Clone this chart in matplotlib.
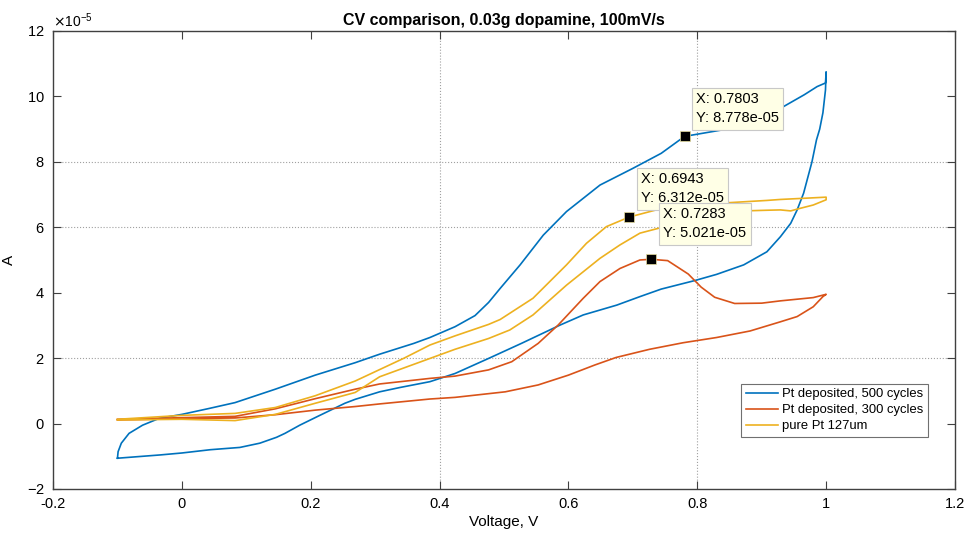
import numpy as np
import matplotlib
matplotlib.use("Agg")
import matplotlib.pyplot as plt
from matplotlib.ticker import MultipleLocator, FuncFormatter

plt.rcParams['font.family'] = ['Liberation Sans', 'DejaVu Sans']
plt.rcParams['axes.unicode_minus'] = False

# current values are read in units of 1e-5 A
SCALE = 1e-5

# Pt deposited, 500 cycles (anodic sweep then return sweep)
v_500_fwd = [-0.100, -0.099, -0.094, -0.082, -0.061, -0.035, 0.000, 0.042, 0.0825, 0.145,
             0.207, 0.269, 0.307, 0.360, 0.385, 0.424, 0.455, 0.476, 0.494, 0.525,
             0.561, 0.597, 0.649, 0.700, 0.744, 0.7803, 0.837, 0.882, 0.934, 0.966,
             0.986, 0.999, 1.000]
i_500_fwd = [-1.06, -0.86, -0.60, -0.30, -0.05, 0.16, 0.28, 0.46, 0.64, 1.05,
             1.48, 1.86, 2.12, 2.45, 2.63, 2.96, 3.30, 3.70, 4.13, 4.85,
             5.76, 6.48, 7.29, 7.80, 8.26, 8.778, 8.97, 9.28, 9.69, 10.05,
             10.30, 10.41, 10.75]
v_500_rev = [1.000, 0.999, 0.995, 0.990, 0.985, 0.978, 0.965, 0.955, 0.945, 0.929,
             0.908, 0.872, 0.830, 0.796, 0.744, 0.711, 0.675, 0.623, 0.587, 0.571,
             0.527, 0.476, 0.424, 0.385, 0.338, 0.307, 0.269, 0.253, 0.212, 0.183,
             0.160, 0.147, 0.121, 0.090, 0.044, 0.000, -0.034, -0.100]
i_500_rev = [10.75, 10.20, 9.50, 9.00, 8.67, 8.00, 7.04, 6.53, 6.12, 5.71,
             5.25, 4.85, 4.56, 4.37, 4.11, 3.88, 3.62, 3.32, 3.01, 2.86,
             2.45, 1.99, 1.53, 1.28, 1.10, 0.97, 0.74, 0.62, 0.23, -0.05,
             -0.30, -0.42, -0.60, -0.73, -0.80, -0.90, -0.96, -1.06]

# Pt deposited, 300 cycles
v_300_fwd = [-0.100, 0.000, 0.0825, 0.145, 0.207, 0.269, 0.307, 0.385, 0.424, 0.476,
             0.512, 0.553, 0.584, 0.623, 0.649, 0.680, 0.711, 0.7283, 0.754, 0.786,
             0.806, 0.827, 0.858, 0.900, 0.929, 0.980, 1.000]
i_300_fwd = [0.13, 0.18, 0.22, 0.45, 0.76, 1.05, 1.21, 1.38, 1.45, 1.64,
             1.89, 2.45, 3.01, 3.83, 4.34, 4.74, 5.00, 5.021, 4.98, 4.57,
             4.17, 3.86, 3.67, 3.68, 3.75, 3.85, 3.95]
v_300_rev = [1.000, 0.995, 0.980, 0.955, 0.929, 0.882, 0.830, 0.778, 0.726, 0.674,
             0.641, 0.600, 0.553, 0.502, 0.424, 0.385, 0.307, 0.269, 0.207, 0.145,
             0.0825, 0.000, -0.100]
i_300_rev = [3.95, 3.88, 3.57, 3.27, 3.11, 2.83, 2.63, 2.47, 2.27, 2.02,
             1.79, 1.48, 1.18, 0.97, 0.80, 0.75, 0.60, 0.52, 0.41, 0.27,
             0.17, 0.15, 0.11]

# pure Pt 127um
v_pt_fwd = [-0.100, 0.000, 0.0825, 0.145, 0.207, 0.269, 0.307, 0.345, 0.385, 0.424,
            0.476, 0.494, 0.545, 0.597, 0.628, 0.659, 0.6943, 0.744, 0.800, 0.848,
            0.908, 0.929, 0.960, 1.000]
i_pt_fwd = [0.13, 0.25, 0.31, 0.49, 0.85, 1.30, 1.65, 2.00, 2.40, 2.68,
            3.03, 3.18, 3.83, 4.85, 5.51, 6.02, 6.312, 6.57, 6.65, 6.75,
            6.82, 6.85, 6.88, 6.92]
v_pt_rev = [1.000, 0.980, 0.960, 0.945, 0.929, 0.908, 0.873, 0.800, 0.742, 0.711,
            0.680, 0.649, 0.597, 0.545, 0.509, 0.476, 0.424, 0.385, 0.307, 0.269,
            0.207, 0.145, 0.0825, 0.000, -0.100]
i_pt_rev = [6.84, 6.68, 6.58, 6.50, 6.53, 6.52, 6.50, 6.28, 5.98, 5.82,
            5.46, 5.05, 4.23, 3.32, 2.86, 2.60, 2.27, 1.99, 1.43, 0.95,
            0.62, 0.28, 0.09, 0.13, 0.11]

labels = ['Pt deposited, 500 cycles', 'Pt deposited, 300 cycles', 'pure Pt 127um']
colors = ['#0072BD', '#D95319', '#EDB120']

# data tips: point, and where the tip text sits
tip_x = [0.7803, 0.6943, 0.7283]
tip_y = [8.778, 6.312, 5.021]
tip_text_x = [0.798, 0.7126, 0.7468]
tip_text_y = [9.12, 6.67, 5.60]

grid_x = [0.4, 0.8]
grid_y = [2, 6, 8]

fig = plt.figure(figsize=(9.66, 5.33), dpi=100)
ax = fig.add_axes([0.0549, 0.0826, 0.9337, 0.8593])

series = [(v_500_fwd + v_500_rev, i_500_fwd + i_500_rev),
          (v_300_fwd + v_300_rev, i_300_fwd + i_300_rev),
          (v_pt_fwd + v_pt_rev, i_pt_fwd + i_pt_rev)]
for (v, i), lab, c in zip(series, labels, colors):
    ax.plot(v, np.array(i) * SCALE, color=c, lw=1.2, label=lab)

for gx in grid_x:
    ax.axvline(gx, color='#a0a0a0', lw=0.8, ls=':', zorder=0)
for gy in grid_y:
    ax.axhline(gy * SCALE, color='#a0a0a0', lw=0.8, ls=':', zorder=0)

for px, py, tx, ty in zip(tip_x, tip_y, tip_text_x, tip_text_y):
    ax.plot(px, py * SCALE, 's', color='black', ms=7, mec='#e8e0a0', mew=0.5, zorder=6)
    ax.text(tx, ty * SCALE, 'X: %g\nY: %.3e' % (px, py * SCALE), fontsize=10.5,
            ha='left', va='bottom', linespacing=1.45, zorder=5,
            bbox=dict(boxstyle='square,pad=0.3', fc='#ffffe6', ec='#c8c8c8', lw=0.8))

ax.set_xlim(-0.2, 1.2)
ax.set_ylim(-2 * SCALE, 12 * SCALE)
ax.xaxis.set_major_locator(MultipleLocator(0.2))
ax.yaxis.set_major_locator(MultipleLocator(2 * SCALE))
ax.xaxis.set_major_formatter(FuncFormatter(lambda x, p: '%g' % round(x, 2)))
ax.ticklabel_format(axis='y', style='sci', scilimits=(-5, -5), useMathText=True)
ax.yaxis.get_offset_text().set_fontsize(10)

ax.tick_params(direction='in', length=5.5, width=0.8, color='#404040',
               labelsize=10.5, top=True, right=True, pad=6)
for s in ax.spines.values():
    s.set_color('#404040')
    s.set_linewidth(1.0)

ax.set_title('CV comparison, 0.03g dopamine, 100mV/s', fontsize=11.5, fontweight='bold', pad=4)
ax.set_xlabel('Voltage, V', fontsize=11, labelpad=3)
ax.set_ylabel('A', fontsize=11, labelpad=8)

leg = ax.legend(loc='lower left', bbox_to_anchor=(0.763, 0.1135), borderaxespad=0,
                fontsize=9.4, fancybox=False, framealpha=1, edgecolor='#707070',
                handlelength=2.5, handletextpad=0.3, labelspacing=0.3, borderpad=0.35)
leg.get_frame().set_linewidth(0.8)

fig.savefig('out.png', dpi=100)
